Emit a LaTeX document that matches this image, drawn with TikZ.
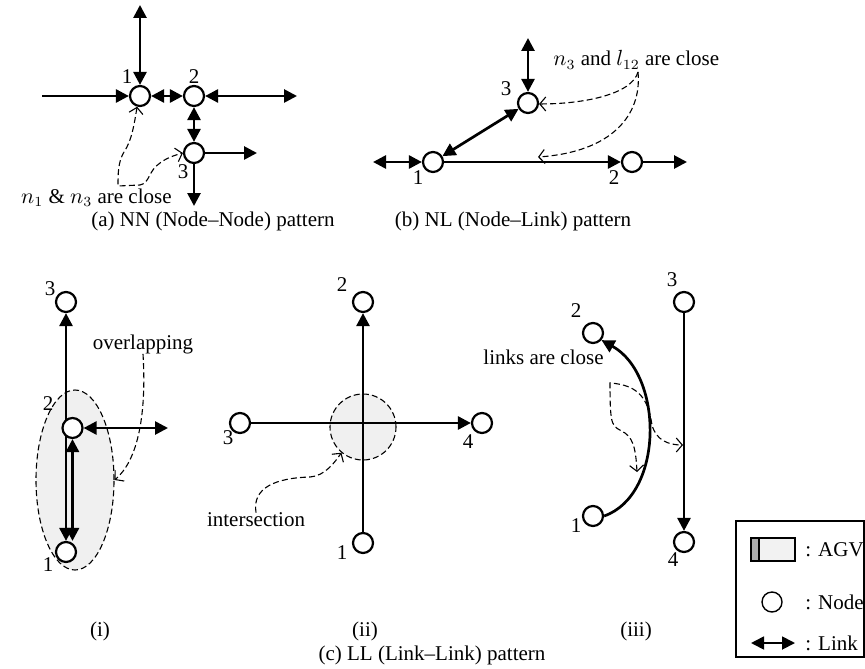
\documentclass[tikz,border=0pt]{standalone}
\usepackage{fontspec}
\setmainfont{Liberation Serif}
\usetikzlibrary{arrows.meta,positioning,shapes.geometric,backgrounds}
\tikzset{
  nd/.style={draw, circle, line width=1.1pt, fill=white, minimum size=10pt, inner sep=0pt},
  lnk/.style={line width=1.35pt, -{Triangle[length=6.5pt,width=6.5pt]}},
  dlnk/.style={line width=1.35pt, {Triangle[length=6.5pt,width=6.5pt]}-{Triangle[length=6.5pt,width=6.5pt]}},
  note/.style={dash pattern=on 3pt off 1.6pt, line width=0.55pt},
  notearr/.style={note, -{Straight Barb[length=3pt,width=7pt]}},
  notedbl/.style={note, {Straight Barb[length=3pt,width=7pt]}-{Straight Barb[length=3pt,width=7pt]}},
  zone/.style={draw, dash pattern=on 3pt off 1.6pt, line width=0.55pt, fill=gray!12, inner sep=0pt},
  num/.style={font=\fontsize{10.5}{12}\selectfont, inner sep=0pt},
  txt/.style={font=\fontsize{10.5}{12}\selectfont, inner sep=0pt}
}

\begin{document}
\begin{tikzpicture}[x=0.5pt, y=0.5pt]
  \useasboundingbox (0,0) rectangle (865,-668);

  % (a) NN pattern
  \node [nd] (a1) at (140,-96) {};
  \node [nd] (a2) at (194,-96) {};
  \node [nd] (a3) at (194,-153) {};
  \node [num] (a1n) at (127,-77) {1};
  \node [num] (a2n) at (194,-77) {2};
  \node [num] (a3n) at (183,-172) {3};
  \coordinate (atop) at (140,-5);
  \coordinate (aleft) at (42,-96);
  \coordinate (aright) at (297,-96);
  \coordinate (a3right) at (257,-153);
  \coordinate (a3down) at (194,-206);
  \draw [dlnk] (atop) -- (a1);
  \draw [lnk] (aleft) -- (a1);
  \draw [dlnk] (a1) -- (a2);
  \draw [dlnk] (a2) -- (aright);
  \draw [dlnk] (a2) -- (a3);
  \draw [lnk] (a3) -- (a3right);
  \draw [lnk] (a3) -- (a3down);
  \node [txt, anchor=east] (anote) at (172,-198) {$n_1$ \& $n_3$ are close};
  \draw [notedbl] (a1.255) .. controls (134,-125) and (132,-140) .. (124,-152)
    .. controls (118,-162) and (118,-174) .. (118,-186) -- (140,-185)
    .. controls (150,-183) and (148,-171) .. (160,-163)
    .. controls (168,-157) and (176,-155) .. (a3.west);
  \node [txt] (acap) at (213,-221) {(a) NN (Node--Node) pattern};

  % (b) NL pattern
  \node [nd] (b1) at (433,-162) {};
  \node [nd] (b2) at (632,-162) {};
  \node [nd] (b3) at (528,-103) {};
  \node [num] (b1n) at (418,-178) {1};
  \node [num] (b2n) at (614,-178) {2};
  \node [num] (b3n) at (506,-89) {3};
  \coordinate (btop) at (528,-38);
  \coordinate (bleft) at (373,-162);
  \coordinate (bright) at (687,-162);
  \draw [dlnk] (btop) -- (b3);
  \draw [dlnk] (b1) -- (b3);
  \draw [dlnk] (bleft) -- (b1);
  \draw [lnk] (b1) -- (b2);
  \draw [lnk] (b2) -- (bright);
  \node [txt, anchor=west] (bnote) at (553,-60) {$n_3$ and $l_{12}$ are close};
  \coordinate (bsrc) at (638,-72);
  \coordinate (bhit) at (538,-157);
  \draw [notearr] (bsrc) .. controls (632,-94) and (585,-104) .. (b3.355);
  \draw [notearr] (bsrc) .. controls (642,-115) and (612,-152) .. (bhit);
  \node [txt] (bcap) at (513,-221) {(b) NL (Node--Link) pattern};

  % (c)(i) overlapping
  \node [nd] (i3) at (66,-302) {};
  \node [nd] (i2) at (72.5,-428) {};
  \node [nd] (i1) at (66,-552) {};
  \node [num] (i3n) at (50,-289) {3};
  \node [num] (i2n) at (48,-404) {2};
  \node [num] (i1n) at (48,-565) {1};
  \coordinate (iright) at (168,-428);
  \begin{scope}[on background layer]
    \node [zone, ellipse, minimum width=39pt, minimum height=90pt] (ovl) at (75,-480) {};
    \draw [dlnk] (i1) -- (i3);
    \draw [dlnk] (i2) -- (i2 |- i1.north);
    \draw [dlnk] (i2) -- (iright);
  \end{scope}
  \node [txt] (inote) at (143,-344) {overlapping};
  \draw [notearr] (inote.south) .. controls (147,-420) and (136,-462) .. (ovl.east);
  \node [txt] (icap) at (100,-631) {(i)};

  % (c)(ii) intersection
  \node [nd] (ii2) at (363,-302) {};
  \node [nd] (ii3) at (240,-423) {};
  \node [nd] (ii4) at (482,-423) {};
  \node [nd] (ii1) at (363,-543) {};
  \node [num] (ii2n) at (342,-285) {2};
  \node [num] (ii3n) at (228,-438) {3};
  \node [num] (ii4n) at (468,-442) {4};
  \node [num] (ii1n) at (342,-553) {1};
  \begin{scope}[on background layer]
    \node [zone, circle, minimum size=33pt] (isec) at (363,-427) {};
    \draw [lnk] (ii1) -- (ii2);
    \draw [lnk] (ii3) -- (ii4);
  \end{scope}
  \node [txt] (iinote) at (256,-520) {intersection};
  \draw [notearr] (iinote.north) .. controls (252,-488) and (275,-478) .. (310,-477)
    .. controls (325,-476) and (335,-462) .. (isec.230);
  \node [txt] (iicap) at (365,-631) {(ii)};

  % (c)(iii) links are close
  \node [nd] (iii2) at (593,-333) {};
  \node [nd] (iii1) at (593,-516) {};
  \node [nd] (iii3) at (684,-302) {};
  \node [nd] (iii4) at (684,-542) {};
  \node [num] (iii2n) at (576,-311) {2};
  \node [num] (iii1n) at (576,-526) {1};
  \node [num] (iii3n) at (672,-280) {3};
  \node [num] (iii4n) at (673,-560) {4};
  \draw [lnk] (iii3) -- (iii4);
  \draw [lnk] (iii1.east) .. controls (664,-495) and (664,-375) .. (iii2.-40);
  \node [txt, anchor=east] (iiinote) at (604,-357) {links are close};
  \coordinate (iiisrc) at (610,-383);
  \coordinate (iiihitA) at (637,-472);
  \coordinate (iiihitB) at (683,-445);
  \draw [notedbl] (iiihitA) .. controls (636,-455) and (635,-440) .. (625,-433)
    .. controls (612,-425) and (610,-430) .. (iiisrc)
    .. controls (640,-385) and (648,-400) .. (652,-425)
    .. controls (656,-440) and (668,-445) .. (iiihitB);
  \node [txt] (iiicap) at (636,-631) {(iii)};

  \node [txt] (ccap) at (432,-655) {(c) LL (Link--Link) pattern};

  % legend
  \node [draw, line width=0.6pt, minimum width=64pt, minimum height=68pt, inner sep=0pt] (legbox) at (800,-589) {};
  \node [draw, line width=0.6pt, fill=gray!10, minimum width=22pt, minimum height=11.5pt, inner sep=0pt] (agv) at (773,-549.5) {};
  \node [draw, line width=0.6pt, fill=gray!65, minimum width=4pt, minimum height=11.5pt, inner sep=0pt, anchor=west] (agvhead) at (agv.west) {};
  \node [txt, anchor=west] (agvtxt) at (805,-550) {: AGV};
  \node [nd, line width=0.7pt] (legnd) at (772,-602) {};
  \node [txt, anchor=west] (ndtxt) at (805,-602) {: Node};
  \coordinate (lk1) at (751,-643);
  \coordinate (lk2) at (795,-643);
  \draw [dlnk, line width=0.9pt] (lk1) -- (lk2);
  \node [txt, anchor=west] (lktxt) at (805,-643) {: Link};
\end{tikzpicture}
\end{document}
